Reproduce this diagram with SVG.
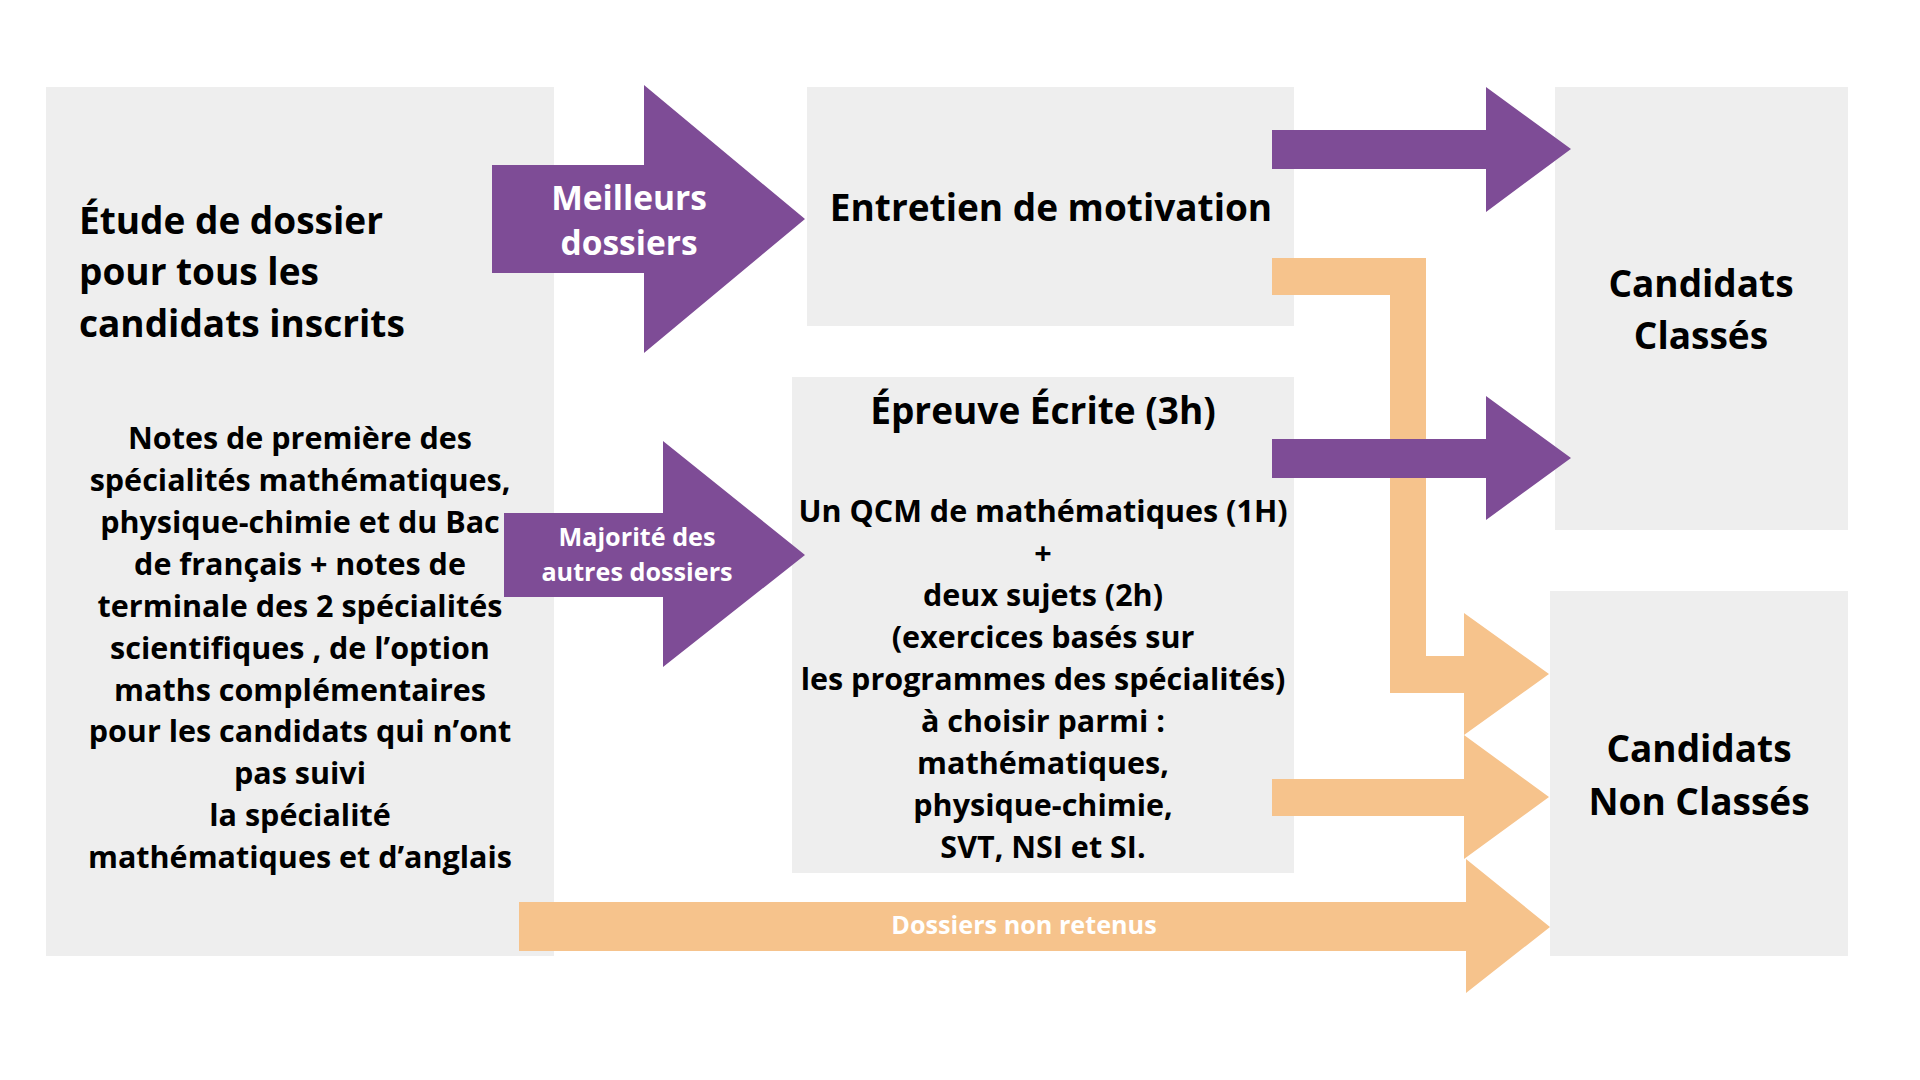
<svg xmlns="http://www.w3.org/2000/svg" width="1920" height="1080" viewBox="0 0 1920 1080">
<style>
.box{fill:#eeeeee}
.pu{fill:#7e4c96}
.or{fill:#f6c38c}
text{font-family:"Open Sans","Noto Sans","Liberation Sans",sans-serif;font-weight:700;fill:#000}
.c{text-anchor:middle}
.w{fill:#ffffff}
.t1{font-size:37px}
.t2{font-size:30.5px}
.t3{font-size:33.5px}
.t4{font-size:25.2px}
</style>
<rect width="1920" height="1080" fill="#ffffff"/>
<g id="node-etude">
<rect class="box" x="46" y="87" width="508" height="869"/>
<text class="t1" x="79" y="234">Étude de dossier</text>
<text class="t1" x="79" y="285">pour tous les</text>
<text class="t1" x="79" y="337">candidats inscrits</text>
<text class="t2 c" x="300" y="449">Notes de première des</text>
<text class="t2 c" x="300" y="491">spécialités mathématiques,</text>
<text class="t2 c" x="300" y="533">physique-chimie et du Bac</text>
<text class="t2 c" x="300" y="575">de français + notes de</text>
<text class="t2 c" x="300" y="617">terminale des 2 spécialités</text>
<text class="t2 c" x="300" y="659">scientifiques , de l’option</text>
<text class="t2 c" x="300" y="701">maths complémentaires</text>
<text class="t2 c" x="300" y="742">pour les candidats qui n’ont</text>
<text class="t2 c" x="300" y="784">pas suivi</text>
<text class="t2 c" x="300" y="826">la spécialité</text>
<text class="t2 c" x="300" y="868">mathématiques et d’anglais</text>
</g>
<g id="node-entretien">
<rect class="box" x="807" y="87" width="487" height="239"/>
<text class="t1 c" x="1051" y="221">Entretien de motivation</text>
</g>
<g id="node-epreuve">
<rect class="box" x="792" y="377" width="502" height="496"/>
<text class="t1 c" x="1043" y="424">Épreuve Écrite (3h)</text>
<text class="t2 c" x="1043" y="522">Un QCM de mathématiques (1H)</text>
<text class="t2 c" x="1043" y="564">+</text>
<text class="t2 c" x="1043" y="606">deux sujets (2h)</text>
<text class="t2 c" x="1043" y="648">(exercices basés sur</text>
<text class="t2 c" x="1043" y="690">les programmes des spécialités)</text>
<text class="t2 c" x="1043" y="732">à choisir parmi :</text>
<text class="t2 c" x="1043" y="774">mathématiques,</text>
<text class="t2 c" x="1043" y="816">physique-chimie,</text>
<text class="t2 c" x="1043" y="858">SVT, NSI et SI.</text>
</g>
<g id="node-classes">
<rect class="box" x="1555" y="87" width="293" height="443"/>
<text class="t1 c" x="1701" y="297">Candidats</text>
<text class="t1 c" x="1701" y="349">Classés</text>
</g>
<g id="node-nonclasses">
<rect class="box" x="1550" y="591" width="298" height="365"/>
<text class="t1 c" x="1699" y="762">Candidats</text>
<text class="t1 c" x="1699" y="815">Non Classés</text>
</g>
<g id="connectors">
<polygon class="pu" points="492,165 644,165 644,85 805,219 644,353 644,273 492,273"/>
<text class="t3 c w" x="629" y="210">Meilleurs</text>
<text class="t3 c w" x="629" y="255">dossiers</text>
<polygon class="pu" points="504,513 663,513 663,441 805,555 663,667 663,597 504,597"/>
<text class="t4 c w" x="637" y="546">Majorité des</text>
<text class="t4 c w" x="637" y="581">autres dossiers</text>
<polygon class="pu" points="1272,130 1486,130 1486,87 1571,149 1486,212 1486,169 1272,169"/>
<polygon class="or" points="1272,258 1426,258 1426,656 1464,656 1464,613 1549,674 1464,735 1464,693 1390,693 1390,295 1272,295"/>
<polygon class="pu" points="1272,439 1486,439 1486,396 1571,458 1486,520 1486,478 1272,478"/>
<polygon class="or" points="1272,779 1464,779 1464,735 1549,797 1464,859 1464,816 1272,816"/>
<polygon class="or" points="519,902 1466,902 1466,859 1550,927 1466,993 1466,951 519,951"/>
<text class="t4 c w" x="1024" y="934">Dossiers non retenus</text>
</g>
</svg>
